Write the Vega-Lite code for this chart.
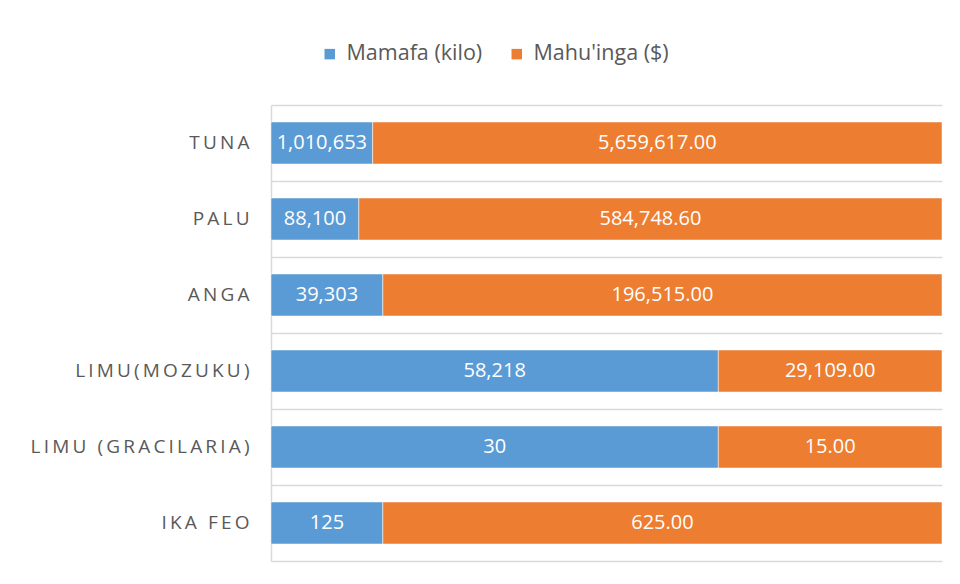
{
  "$schema": "https://vega.github.io/schema/vega-lite/v6.json",
  "width": 671,
  "height": 456,
  "autosize": {"type": "none"},
  "padding": {"left": 271, "top": 105, "right": 18, "bottom": 23},
  "background": "white",
  "config": {"view": {"stroke": null}, "font": "Open Sans"},
  "data": {
    "values": [
      {"item": "TUNA", "series": "Mamafa (kilo)", "value": 1010653},
      {"item": "TUNA", "series": "Mahu'inga ($)", "value": 5659617.00},
      {"item": "PALU", "series": "Mamafa (kilo)", "value": 88100},
      {"item": "PALU", "series": "Mahu'inga ($)", "value": 584748.60},
      {"item": "ANGA", "series": "Mamafa (kilo)", "value": 39303},
      {"item": "ANGA", "series": "Mahu'inga ($)", "value": 196515.00},
      {"item": "LIMU(MOZUKU)", "series": "Mamafa (kilo)", "value": 58218},
      {"item": "LIMU(MOZUKU)", "series": "Mahu'inga ($)", "value": 29109.00},
      {"item": "LIMU (GRACILARIA)", "series": "Mamafa (kilo)", "value": 30},
      {"item": "LIMU (GRACILARIA)", "series": "Mahu'inga ($)", "value": 15.00},
      {"item": "IKA FEO", "series": "Mamafa (kilo)", "value": 125},
      {"item": "IKA FEO", "series": "Mahu'inga ($)", "value": 625.00}
    ]
  },
  "transform": [
    {"stack": "value", "groupby": ["item"], "offset": "normalize", "sort": [{"field": "series", "order": "descending"}], "as": ["x0", "x1"]},
    {"calculate": "(datum.x0 + datum.x1) / 2", "as": "mid"},
    {"calculate": "datum.series === 'Mamafa (kilo)' ? format(datum.value, ',') : format(datum.value, ',.2f')", "as": "lab"}
  ],
  "encoding": {
    "y": {
      "field": "item",
      "type": "nominal",
      "sort": ["TUNA", "PALU", "ANGA", "LIMU(MOZUKU)", "LIMU (GRACILARIA)", "IKA FEO"],
      "scale": {"paddingInner": 0, "paddingOuter": 0},
      "axis": {
        "title": null,
        "domainColor": "#d9d9d9",
        "domainWidth": 1.5,
        "ticks": false,
        "grid": true,
        "bandPosition": 0,
        "gridColor": "#d9d9d9",
        "gridWidth": 1.5,
        "labelFontSize": 19,
        "labelColor": "#595959",
        "labelPadding": 22,
        "labelLimit": 400,
        "labelExpr": "join(split(datum.label, ''), '\u2006')"
      }
    }
  },
  "layer": [
    {
      "mark": {"type": "bar", "stroke": "white", "strokeWidth": 0.5, "height": {"band": 0.553}},
      "encoding": {
        "x": {
          "field": "x0",
          "type": "quantitative",
          "scale": {"domain": [0, 1], "nice": false, "zero": true},
          "axis": {"title": null, "labels": false, "ticks": false, "grid": false, "domain": true, "domainColor": "#d9d9d9", "domainWidth": 1.5}
        },
        "x2": {"field": "x1"},
        "color": {
          "field": "series",
          "type": "nominal",
          "scale": {"domain": ["Mamafa (kilo)", "Mahu'inga ($)"], "range": ["#5b9bd5", "#ed7d31"]},
          "legend": {
            "orient": "none",
            "legendX": 48,
            "legendY": -62,
            "direction": "horizontal",
            "title": null,
            "symbolType": "square",
            "symbolSize": 110,
            "symbolStrokeWidth": 0,
            "labelFontSize": 21.5,
            "labelColor": "#595959",
            "labelOffset": 6,
            "columnPadding": 23
          }
        }
      }
    },
    {
      "mark": {"type": "text", "color": "white", "fontSize": 20},
      "encoding": {
        "x": {"field": "mid", "type": "quantitative"},
        "text": {"field": "lab"}
      }
    }
  ]
}
